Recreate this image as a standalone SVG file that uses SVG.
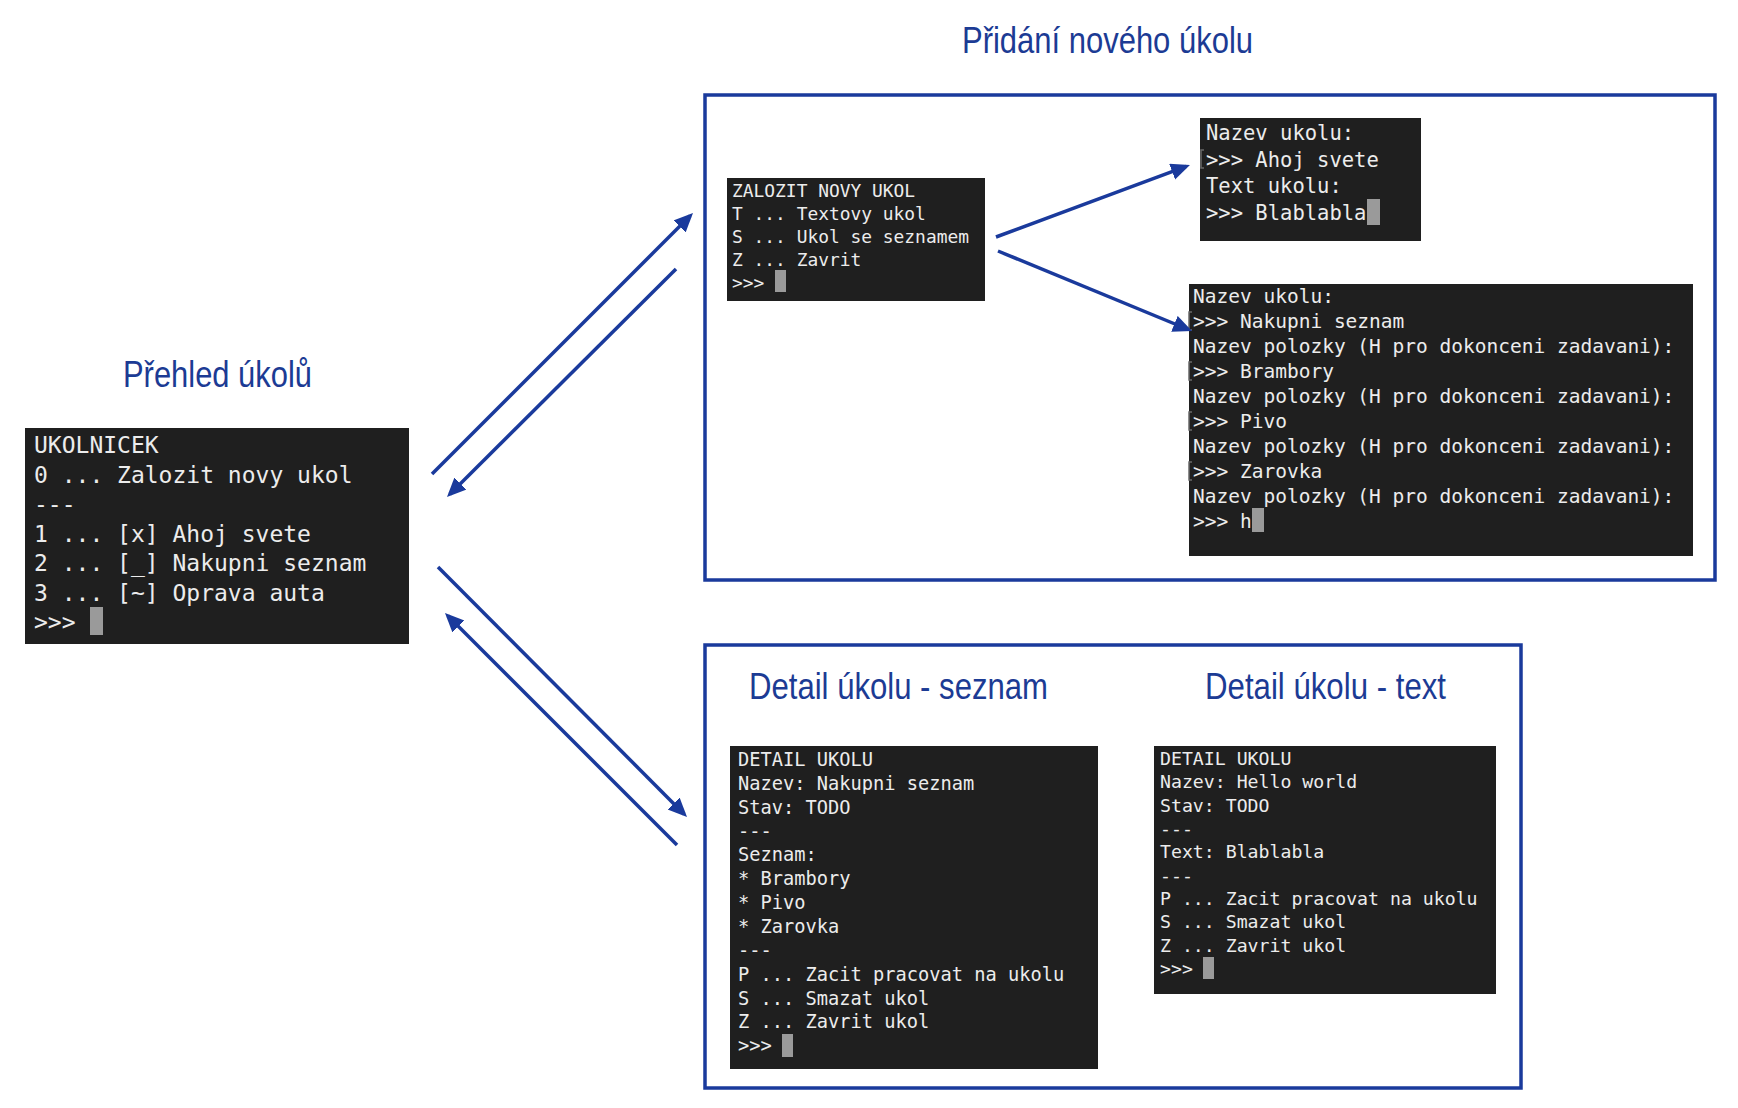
<svg xmlns="http://www.w3.org/2000/svg" width="1738" height="1108" viewBox="0 0 1738 1108">
<style>
.bg{fill:#ffffff}
.title{font-family:"Liberation Sans","Arial",sans-serif;font-size:36px;fill:#1c3b94}
.frame{fill:none;stroke:#1a3a9c;stroke-width:3.5}
.term{fill:#1f1f1f}
.t{font-family:"DejaVu Sans Mono","Liberation Mono",monospace;fill:#ececec;white-space:pre}
.cur{fill:#9a9a9a}
.mark{fill:none;stroke:#6a6a6a;stroke-width:1.5}
.conn{fill:none;stroke:#1a3a9c;stroke-width:3.5;marker-end:url(#ah)}
</style>
<defs>
<marker id="ah" markerUnits="userSpaceOnUse" markerWidth="20" markerHeight="18" refX="15" refY="8.5" orient="auto">
<path d="M0,0 L19,8.5 L0,17 z" fill="#1a3a9c"/>
</marker>
</defs>
<rect class="bg" x="0" y="0" width="1738" height="1108"/>

<text class="title" x="123" y="387" textLength="189" lengthAdjust="spacingAndGlyphs">Přehled úkolů</text>
<text class="title" x="962" y="53" textLength="291" lengthAdjust="spacingAndGlyphs">Přidání nového úkolu</text>

<g id="box-add">
<rect class="frame" x="705" y="95" width="1010" height="485"/>
</g>
<g id="box-detail">
<rect class="frame" x="705" y="645" width="816" height="443"/>
<text class="title" x="749" y="699" textLength="299" lengthAdjust="spacingAndGlyphs">Detail úkolu - seznam</text>
<text class="title" x="1205" y="699" textLength="241" lengthAdjust="spacingAndGlyphs">Detail úkolu - text</text>
</g>

<g id="node-overview">
<rect class="term" x="25" y="428" width="384" height="216"/>
<g class="t" font-size="23">
<text x="34" y="453">UKOLNICEK</text>
<text x="34" y="482.5">0 ... Zalozit novy ukol</text>
<text x="34" y="512">---</text>
<text x="34" y="541.5">1 ... [x] Ahoj svete</text>
<text x="34" y="571">2 ... [_] Nakupni seznam</text>
<text x="34" y="600.5">3 ... [~] Oprava auta</text>
<text x="34" y="630">&gt;&gt;&gt;</text>
</g>
<rect class="cur" x="90" y="607" width="13" height="28"/>
</g>

<g id="node-add-menu">
<rect class="term" x="727" y="178" width="258" height="123"/>
<g class="t" font-size="17.9">
<text x="732" y="197">ZALOZIT NOVY UKOL</text>
<text x="732" y="220">T ... Textovy ukol</text>
<text x="732" y="243">S ... Ukol se seznamem</text>
<text x="732" y="266">Z ... Zavrit</text>
<text x="732" y="288.5">&gt;&gt;&gt;</text>
</g>
<rect class="cur" x="775" y="270" width="11" height="22"/>
</g>

<g id="node-add-text">
<rect class="term" x="1200" y="118" width="221" height="123"/>
<g class="t" font-size="20.5">
<text x="1206" y="140">Nazev ukolu:</text>
<text x="1206" y="166.7">&gt;&gt;&gt; Ahoj svete</text>
<text x="1206" y="193.4">Text ukolu:</text>
<text x="1206" y="220">&gt;&gt;&gt; Blablabla</text>
</g>
<path class="mark" d="M1204,150 h-3 v18 h3"/>
<rect class="cur" x="1367" y="199" width="13" height="26"/>
</g>

<g id="node-add-list">
<rect class="term" x="1189" y="284" width="504" height="272"/>
<g class="t" font-size="19.5">
<text x="1193" y="303">Nazev ukolu:</text>
<text x="1193" y="328">&gt;&gt;&gt; Nakupni seznam</text>
<text x="1193" y="353">Nazev polozky (H pro dokonceni zadavani):</text>
<text x="1193" y="378">&gt;&gt;&gt; Brambory</text>
<text x="1193" y="403">Nazev polozky (H pro dokonceni zadavani):</text>
<text x="1193" y="428">&gt;&gt;&gt; Pivo</text>
<text x="1193" y="453">Nazev polozky (H pro dokonceni zadavani):</text>
<text x="1193" y="478">&gt;&gt;&gt; Zarovka</text>
<text x="1193" y="503">Nazev polozky (H pro dokonceni zadavani):</text>
<text x="1193" y="528">&gt;&gt;&gt; h</text>
</g>
<path class="mark" d="M1192,312 h-3 v18 h3 M1192,362 h-3 v18 h3 M1192,412 h-3 v18 h3 M1192,462 h-3 v18 h3"/>
<rect class="cur" x="1252" y="508" width="12" height="24"/>
</g>

<g id="node-detail-list">
<rect class="term" x="730" y="746" width="368" height="323"/>
<g class="t" font-size="18.7">
<text x="738" y="766">DETAIL UKOLU</text>
<text x="738" y="789.8">Nazev: Nakupni seznam</text>
<text x="738" y="813.7">Stav: TODO</text>
<text x="738" y="837.5">---</text>
<text x="738" y="861.3">Seznam:</text>
<text x="738" y="885.2">* Brambory</text>
<text x="738" y="909">* Pivo</text>
<text x="738" y="932.8">* Zarovka</text>
<text x="738" y="956.6">---</text>
<text x="738" y="981">P ... Zacit pracovat na ukolu</text>
<text x="738" y="1004.6">S ... Smazat ukol</text>
<text x="738" y="1028.2">Z ... Zavrit ukol</text>
<text x="738" y="1052">&gt;&gt;&gt;</text>
</g>
<rect class="cur" x="782" y="1034" width="11" height="23"/>
</g>

<g id="node-detail-text">
<rect class="term" x="1154" y="746" width="342" height="248"/>
<g class="t" font-size="18.2">
<text x="1160" y="765">DETAIL UKOLU</text>
<text x="1160" y="788.3">Nazev: Hello world</text>
<text x="1160" y="811.7">Stav: TODO</text>
<text x="1160" y="835">---</text>
<text x="1160" y="858.3">Text: Blablabla</text>
<text x="1160" y="881.7">---</text>
<text x="1160" y="905">P ... Zacit pracovat na ukolu</text>
<text x="1160" y="928.3">S ... Smazat ukol</text>
<text x="1160" y="951.7">Z ... Zavrit ukol</text>
<text x="1160" y="975">&gt;&gt;&gt;</text>
</g>
<rect class="cur" x="1203" y="957" width="11" height="22"/>
</g>

<g id="connectors">
<path class="conn" d="M432,474 L690.2,215.8"/>
<path class="conn" d="M676,269 L449.8,494.2"/>
<path class="conn" d="M438,567 L684.2,814.2"/>
<path class="conn" d="M677,845 L447.8,615.8"/>
<path class="conn" d="M996,237 L1186.2,166.4"/>
<path class="conn" d="M998,251 L1188.3,329.5"/>
</g>
</svg>
